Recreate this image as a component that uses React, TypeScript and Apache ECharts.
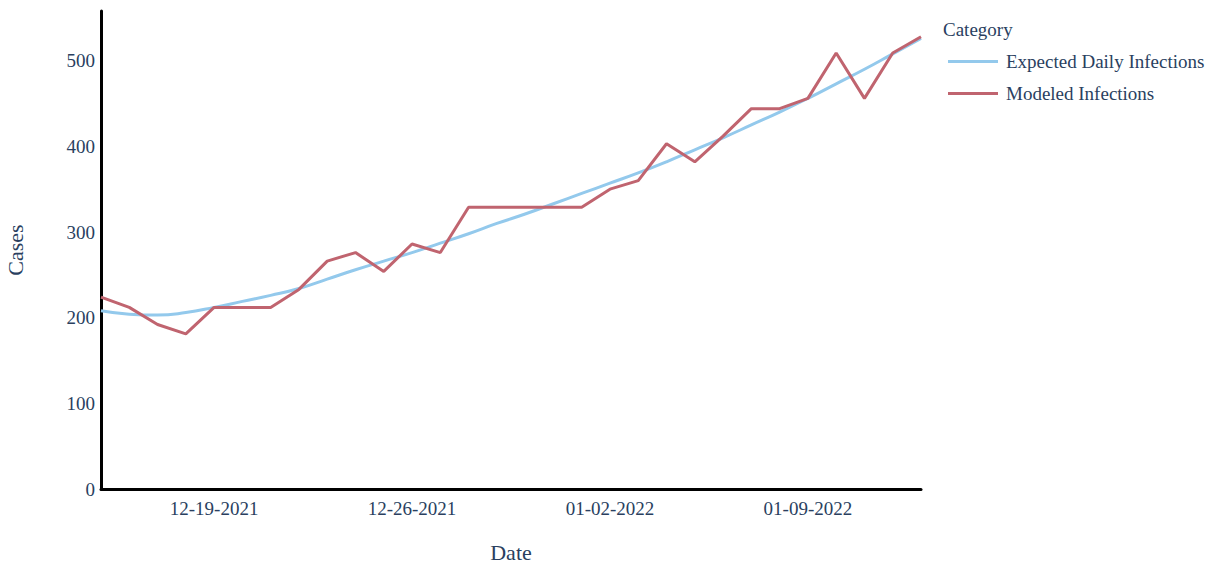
import React, { useEffect, useRef } from "react";
import * as echarts from "echarts";

const dates = [
  "12-15-2021", "12-16-2021", "12-17-2021", "12-18-2021", "12-19-2021", "12-20-2021",
  "12-21-2021", "12-22-2021", "12-23-2021", "12-24-2021", "12-25-2021", "12-26-2021",
  "12-27-2021", "12-28-2021", "12-29-2021", "12-30-2021", "12-31-2021", "01-01-2022",
  "01-02-2022", "01-03-2022", "01-04-2022", "01-05-2022", "01-06-2022", "01-07-2022",
  "01-08-2022", "01-09-2022", "01-10-2022", "01-11-2022", "01-12-2022", "01-13-2022",
];

const expectedDaily = [
  208, 204, 203, 206, 212, 219, 226, 234, 245, 256, 266, 276, 287, 298, 310,
  321, 333, 345, 357, 369, 382, 396, 410, 425, 440, 456, 473, 490, 508, 526,
];

const modeled = [
  224, 212, 192, 181, 212, 212, 212, 233, 266, 276, 254, 286, 276, 329, 329,
  329, 329, 329, 350, 360, 403, 382, 412, 444, 444, 456, 509, 456, 509, 528,
];

const shownTicks = ["12-19-2021", "12-26-2021", "01-02-2022", "01-09-2022"];

const FONT = "'Liberation Serif', 'Times New Roman', serif";
const TEXT = "#2a3f5f";

export default function App() {
  const ref = useRef<HTMLDivElement>(null);
  useEffect(() => {
    if (!ref.current) return;
    const chart = echarts.init(ref.current, null, { renderer: "svg" });
    chart.setOption({
      animation: false,
      backgroundColor: "#ffffff",
      textStyle: { fontFamily: FONT },
      grid: { left: 101, right: 296, top: 11, bottom: 75, outerBoundsMode: "none", containLabel: false },
      xAxis: {
        type: "category",
        data: dates,
        boundaryGap: false,
        name: "Date",
        nameLocation: "middle",
        nameGap: 52,
        nameTextStyle: { fontFamily: FONT, fontSize: 22, color: TEXT },
        axisLine: { show: true, lineStyle: { color: "#000000", width: 3 } },
        axisTick: { show: false },
        splitLine: { show: false },
        axisLabel: {
          interval: (_i: number, v: string) => shownTicks.includes(v),
          fontFamily: FONT,
          fontSize: 19,
          color: TEXT,
          margin: 10,
        },
      },
      yAxis: {
        type: "value",
        min: 0,
        max: 558,
        interval: 100,
        name: "Cases",
        nameLocation: "middle",
        nameGap: 75,
        nameTextStyle: { fontFamily: FONT, fontSize: 22, color: TEXT },
        axisLine: { show: true, lineStyle: { color: "#000000", width: 3 } },
        axisTick: { show: false },
        splitLine: { show: false },
        axisLabel: {
          showMaxLabel: false,
          fontFamily: FONT,
          fontSize: 19,
          color: TEXT,
          margin: 6,
        },
      },
      legend: {
        orient: "vertical",
        left: 943,
        top: 47,
        itemWidth: 50,
        itemHeight: 3,
        itemGap: 13,
        icon: "rect",
        textStyle: { fontFamily: FONT, fontSize: 19, color: TEXT, padding: [0, 0, 0, 3] },
        data: ["Expected Daily Infections", "Modeled Infections"],
      },
      graphic: [
        {
          type: "text",
          left: 943,
          top: 20,
          style: { text: "Category", font: `19px ${FONT}`, fill: TEXT },
        },
      ],
      series: [
        {
          name: "Expected Daily Infections",
          type: "line",
          data: expectedDaily,
          smooth: true,
          symbol: "none",
          lineStyle: { color: "#93c9ec", width: 3 },
          itemStyle: { color: "#93c9ec" },
          z: 2,
        },
        {
          name: "Modeled Infections",
          type: "line",
          data: modeled,
          symbol: "none",
          lineStyle: { color: "#c0646f", width: 3 },
          itemStyle: { color: "#c0646f" },
          z: 3,
        },
      ],
    });
    return () => chart.dispose();
  }, []);
  return (
    <div
      ref={ref}
      style={{ position: "fixed", left: 0, top: 0, width: 1217, height: 564, background: "#fff" }}
    />
  );
}
